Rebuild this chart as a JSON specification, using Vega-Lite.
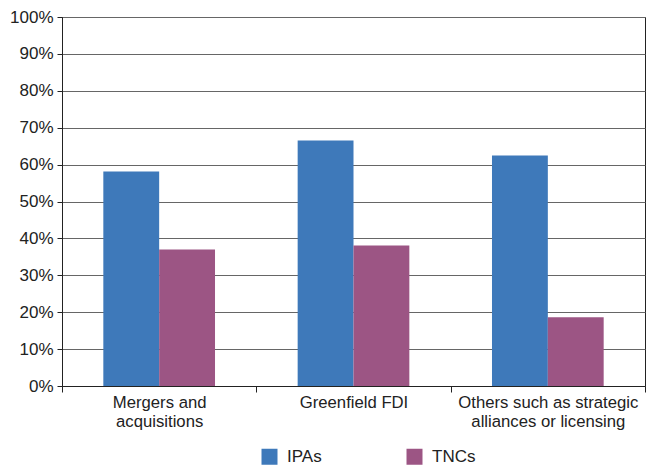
{
  "$schema": "https://vega.github.io/schema/vega-lite/v6.json",
  "autosize": {"type": "none"},
  "padding": {"left": 62, "top": 17, "right": 4, "bottom": 79},
  "width": 583,
  "height": 369,
  "background": "white",
  "data": {
    "values": [
      {"category": "Mergers and acquisitions", "group": "IPAs", "value": 0.581},
      {"category": "Mergers and acquisitions", "group": "TNCs", "value": 0.370},
      {"category": "Greenfield FDI", "group": "IPAs", "value": 0.665},
      {"category": "Greenfield FDI", "group": "TNCs", "value": 0.381},
      {"category": "Others such as strategic alliances or licensing", "group": "IPAs", "value": 0.625},
      {"category": "Others such as strategic alliances or licensing", "group": "TNCs", "value": 0.186}
    ]
  },
  "config": {
    "view": {"stroke": "#222", "strokeWidth": 1},
    "font": "Liberation Sans"
  },
  "mark": {"type": "bar"},
  "encoding": {
    "x": {
      "field": "category",
      "type": "nominal",
      "sort": null,
      "scale": {"paddingInner": 0, "paddingOuter": 0},
      "axis": {
        "title": null,
        "labelAngle": 0,
        "labelFontSize": 16.7,
        "labelColor": "#222",
        "labelLineHeight": 19,
        "labelPadding": 2,
        "tickBand": "extent",
        "tickSize": 6,
        "tickColor": "#222",
        "domainColor": "#222",
        "labelExpr": "datum.label == 'Mergers and acquisitions' ? ['Mergers and', 'acquisitions'] : datum.label == 'Others such as strategic alliances or licensing' ? ['Others such as strategic', 'alliances or licensing'] : datum.label"
      }
    },
    "xOffset": {
      "field": "group",
      "type": "nominal",
      "scale": {"paddingInner": 0, "paddingOuter": 0.74}
    },
    "y": {
      "field": "value",
      "type": "quantitative",
      "scale": {"domain": [0, 1], "nice": false},
      "axis": {
        "title": null,
        "format": ".0%",
        "values": [0, 0.1, 0.2, 0.3, 0.4, 0.5, 0.6, 0.7, 0.8, 0.9, 1],
        "labelFontSize": 17,
        "labelColor": "#222",
        "labelPadding": 4,
        "tickSize": 5,
        "tickColor": "#222",
        "domainColor": "#222",
        "grid": true,
        "gridColor": "#666666",
        "gridWidth": 1
      }
    },
    "color": {
      "field": "group",
      "type": "nominal",
      "scale": {"domain": ["IPAs", "TNCs"], "range": ["#3E79BA", "#9C5584"]},
      "legend": {
        "title": null,
        "orient": "none",
        "direction": "horizontal",
        "legendX": 199,
        "legendY": 431,
        "symbolType": "square",
        "symbolSize": 256,
        "symbolStrokeWidth": 0,
        "symbolOpacity": 1,
        "labelFontSize": 17,
        "labelColor": "#222",
        "labelOffset": 9,
        "columnPadding": 84
      }
    }
  }
}
